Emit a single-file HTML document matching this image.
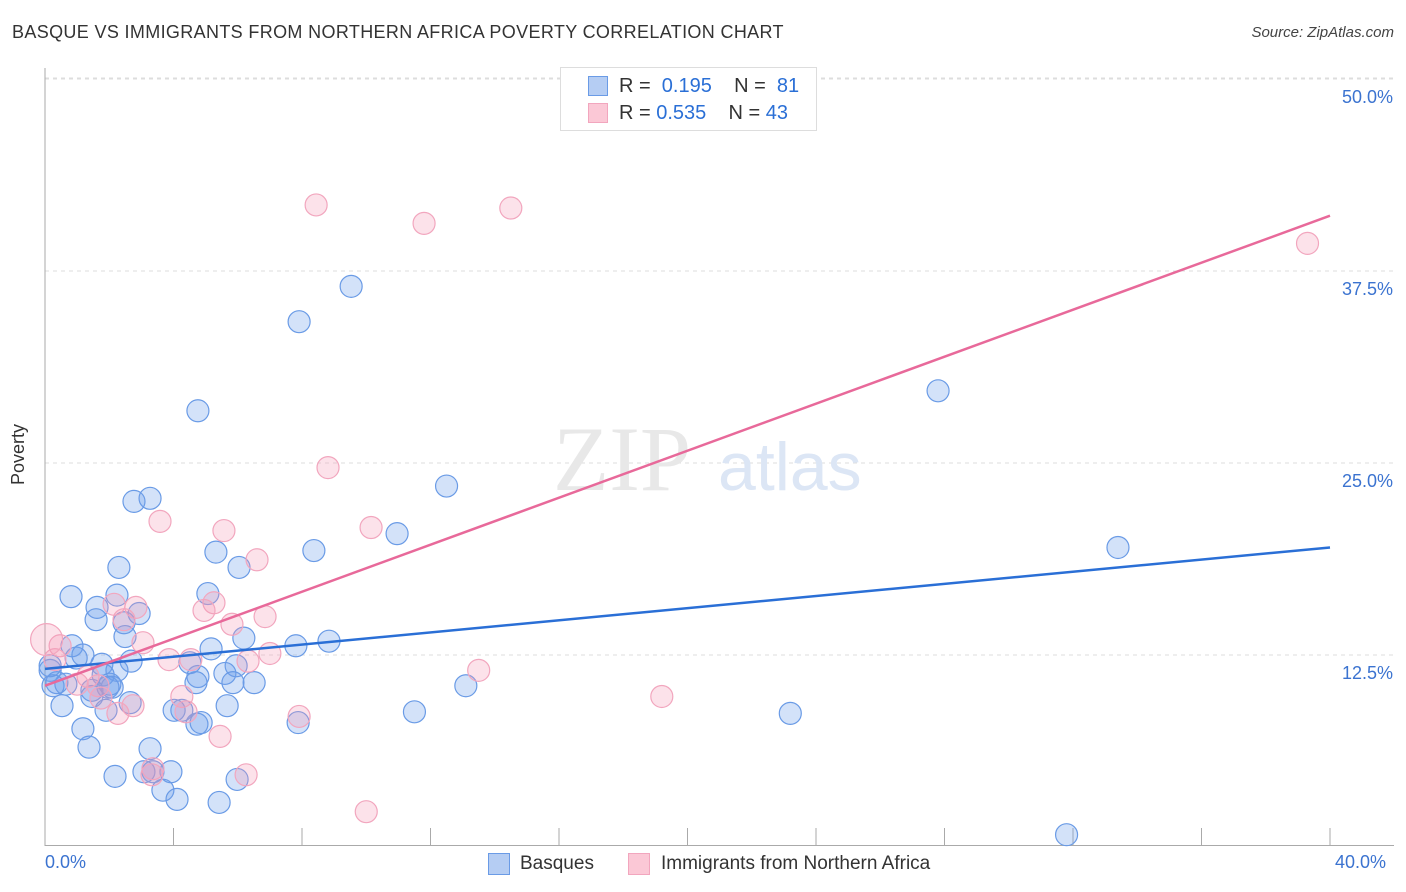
<!DOCTYPE html>
<html><head><meta charset="utf-8"><style>
body{margin:0;background:#fff;font-family:"Liberation Sans",sans-serif;}
#wrap{position:relative;width:1406px;height:892px;overflow:hidden;}
.t{position:absolute;white-space:nowrap;}
</style></head><body>
<div id="wrap">
<div class="t" style="left:12px;top:22px;font-size:18px;color:#333;letter-spacing:0.35px;">BASQUE VS IMMIGRANTS FROM NORTHERN AFRICA POVERTY CORRELATION CHART</div>
<div class="t" style="right:12px;top:24px;font-size:15px;color:#444;font-style:italic;">Source: ZipAtlas.com</div>
<svg id="svg" width="1406" height="892" style="position:absolute;left:0;top:0"></svg>
</div>
<script>
const xTicks=[0,4,8,12,16,20,24,28,32,36,40];
const yTicks=[12.5,25,37.5,50];
const yTickLabels=["12.5%","25.0%","37.5%","50.0%"];
const basqueX=[9.53,7.91,4.76,27.8,12.5,2.77,3.27,10.96,33.4,5.32,8.37,6.04,2.30,0.81,5.07,2.24,1.62,2.93,1.59,2.46,2.49,6.19,8.84,7.81,0.84,5.17,1.18,0.97,2.68,1.77,5.95,4.51,0.16,2.24,1.81,5.60,4.76,0.37,2.02,0.65,6.51,5.85,4.70,0.25,1.96,2.09,1.46,13.1,1.46,2.65,0.53,5.67,1.90,4.02,4.26,11.5,23.2,7.88,4.73,4.86,1.18,3.27,1.37,2.18,3.08,3.92,3.36,5.98,3.67,4.11,5.42,31.8,0.16];
const basqueY=[36.5,34.2,28.4,29.7,23.5,22.5,22.7,20.4,19.5,19.2,19.3,18.2,18.2,16.3,16.5,16.4,15.6,15.2,14.8,14.6,13.7,13.6,13.4,13.1,13.1,12.9,12.5,12.3,12.1,11.9,11.8,12.0,11.5,11.5,11.2,11.3,11.1,10.7,10.6,10.6,10.7,10.7,10.7,10.5,10.4,10.4,10.2,10.5,9.8,9.4,9.2,9.2,8.9,8.9,8.9,8.8,8.7,8.1,8.0,8.1,7.7,6.4,6.5,4.6,4.9,4.9,4.9,4.4,3.7,3.1,2.9,0.8,11.8];
const nafX=[8.44,11.8,14.5,39.3,8.81,3.58,5.57,10.15,6.60,5.26,2.15,2.83,4.95,6.85,2.46,5.82,3.05,0.47,0.31,3.86,4.54,6.32,7.00,13.5,1.34,1.00,1.65,19.2,4.26,1.74,2.74,4.39,7.91,2.27,5.45,3.36,3.33,6.26,10.0,0.05];
const nafY=[41.8,40.6,41.6,39.3,24.7,21.2,20.6,20.8,18.7,15.9,15.8,15.6,15.4,15.0,14.8,14.5,13.3,13.1,12.2,12.2,12.2,12.1,12.6,11.5,11.1,10.6,10.5,9.8,9.8,9.7,9.2,8.8,8.5,8.7,7.2,5.1,4.7,4.7,2.3,13.5];
const basqueTrend=[11.6,19.5];
const nafTrend=[10.5,41.1];
const X0=45,X1=1330,YB=847,PPU=15.36;
function sx(v){return X0+v/40*(X1-X0);}
function sy(v){return YB-v*PPU;}
const svg=document.getElementById('svg');const NS='http://www.w3.org/2000/svg';
function mk(t,a,p){const e=document.createElementNS(NS,t);for(const k in a)e.setAttribute(k,a[k]);(p||svg).appendChild(e);return e;}
mk('line',{x1:45,x2:1394,y1:78,y2:78,stroke:'#ddd','stroke-dasharray':'4,4'});
yTicks.forEach((v,i)=>{
 const g=mk('line',{x1:45,x2:1394,y1:sy(v),y2:sy(v),stroke:'#ddd','stroke-dasharray':'4,4'});
 
 
 const t=mk('text',{x:1393,y:sy(v)+24,'text-anchor':'end','font-size':18,fill:'#3b73d0','font-family':'Liberation Sans'});
 t.textContent=yTickLabels[i];
 
 
});
mk('line',{x1:45,x2:45,y1:68,y2:846,stroke:'#aaa'});
mk('line',{x1:45,x2:1394,y1:845.5,y2:845.5,stroke:'#aaa'});
xTicks.forEach(v=>{const l=mk('line',{x1:sx(v),x2:sx(v),y1:828,y2:846,stroke:'#aaa'});
 
 });
const wm=mk('text',{x:553,y:490,'font-size':92,fill:'#e8e8e8','font-family':'Liberation Serif'});wm.textContent='ZIP';
const wm2=mk('text',{x:718,y:490,'font-size':68,fill:'#dce6f5','font-family':'Liberation Sans'});wm2.textContent='atlas';
function pts(xs,ys,fill,stroke,name){xs.forEach((x,i)=>{
 const big=(x<0.1);
 const c=mk('circle',{cx:sx(x),cy:sy(ys[i]),r:big?16:11,fill:fill,stroke:stroke,'stroke-width':1.2});
 
 });}
pts(basqueX,basqueY,'rgba(110,160,235,0.3)','#6a9be6','basque-point');
pts(nafX,nafY,'rgba(245,150,180,0.28)','#f2a6be','nafrica-point');
const bl=mk('line',{x1:sx(0),y1:sy(basqueTrend[0]),x2:sx(40),y2:sy(basqueTrend[1]),stroke:'#2a6fd6','stroke-width':2.5});


const pl=mk('line',{x1:sx(0),y1:sy(nafTrend[0]),x2:sx(40),y2:sy(nafTrend[1]),stroke:'#e8699a','stroke-width':2.5});


</script>
<div class="t" style="left:-12px;top:444px;font-size:18px;color:#333;transform:rotate(-90deg);">Poverty</div>
<div class="t" style="left:45px;top:852px;font-size:18px;color:#3b73d0;">0.0%</div>
<div class="t" style="left:1335px;top:852px;font-size:18px;color:#3b73d0;">40.0%</div>
<div style="position:absolute;left:560px;top:67px;width:255px;height:62px;border:1px solid #ddd;background:#fff;font-size:20px;">
 <div style="position:absolute;left:27px;top:8px;width:18px;height:18px;background:#b5cdf3;border:1px solid #6a9be6;"></div>
 <div class="t" style="left:58px;top:7px;color:#333;">R = <span style="color:#2a6fd6">&nbsp;0.195</span>&nbsp;&nbsp;&nbsp; N = <span style="color:#2a6fd6">&nbsp;81</span></div>
 <div style="position:absolute;left:27px;top:35px;width:18px;height:18px;background:#fbc8d6;border:1px solid #f2a6be;"></div>
 <div class="t" style="left:58px;top:34px;color:#333;">R = <span style="color:#2a6fd6">0.535</span>&nbsp;&nbsp;&nbsp; N = <span style="color:#2a6fd6">43</span></div>
</div>
<div style="position:absolute;left:488px;top:853px;width:20px;height:20px;background:#b5cdf3;border:1px solid #6a9be6;"></div>
<div class="t" style="left:520px;top:853px;font-size:19px;color:#333;">Basques</div>
<div style="position:absolute;left:628px;top:853px;width:20px;height:20px;background:#fbc8d6;border:1px solid #f2a6be;"></div>
<div class="t" style="left:661px;top:853px;font-size:19px;color:#333;">Immigrants from Northern Africa</div>
</body></html>
